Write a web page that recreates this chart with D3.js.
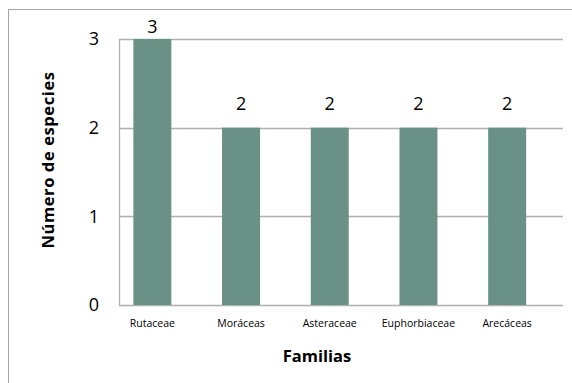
<!DOCTYPE html>
<html>
<head>
<meta charset="utf-8">
<script src="https://cdn.jsdelivr.net/npm/d3@7"></script>
<style>
  html, body { margin: 0; padding: 0; background: #fff; }
  svg { display: block; font-family: "Open Sans", Lato, sans-serif; }
</style>
</head>
<body>
<svg id="chart" width="572" height="383"></svg>
<script>
// ---- data ----
const familias = ['Rutaceae', 'Moráceas', 'Asteraceae', 'Euphorbiaceae', 'Arecáceas'];
const especies = [3, 2, 2, 2, 2];
const yTicks = [0, 1, 2, 3];

const W = 572, H = 383;
const plot = { left: 119, right: 563, top: 39, bottom: 305 };

const svg = d3.select('#chart');

// outer chart border
svg.append('rect')
  .attr('x', 8.5).attr('y', 9.5)
  .attr('width', W).attr('height', H)
  .attr('fill', 'none')
  .attr('stroke', '#a6a6a6')
  .attr('stroke-width', 1);

const x = d3.scaleBand()
  .domain(familias)
  .range([108, 551.5])
  .paddingInner(0.572)
  .paddingOuter(0.286);

const y = d3.scaleLinear()
  .domain([0, 3])
  .range([plot.bottom, plot.top]);

// gridlines
svg.append('g')
  .selectAll('line')
  .data(yTicks)
  .join('line')
  .attr('x1', plot.left).attr('x2', plot.right)
  .attr('y1', d => Math.round(y(d)) + 0.5)
  .attr('y2', d => Math.round(y(d)) + 0.5)
  .attr('stroke', '#b0b0b0')
  .attr('stroke-width', 1.3);

// left axis line
svg.append('line')
  .attr('x1', plot.left + 0.5).attr('x2', plot.left + 0.5)
  .attr('y1', plot.top).attr('y2', plot.bottom + 1)
  .attr('stroke', '#b0b0b0')
  .attr('stroke-width', 1.3);

// y tick labels
svg.append('g')
  .selectAll('text')
  .data(yTicks)
  .join('text')
  .attr('x', 99)
  .attr('y', d => y(d))
  .attr('dy', '0.36em')
  .attr('text-anchor', 'end')
  .attr('font-size', 18)
  .attr('fill', '#000')
  .text(d => d);

// bars
svg.append('g')
  .selectAll('rect')
  .data(especies)
  .join('rect')
  .attr('x', (d, i) => x(familias[i]))
  .attr('width', x.bandwidth())
  .attr('y', d => y(d))
  .attr('height', d => y(0) - y(d))
  .attr('fill', '#6a9186');

// value labels (kept inside the chart area like Excel does)
svg.append('g')
  .selectAll('text')
  .data(especies)
  .join('text')
  .attr('x', (d, i) => x(familias[i]) + x.bandwidth() / 2)
  .attr('y', d => Math.max(y(d) - 17.5, 33))
  .attr('text-anchor', 'middle')
  .attr('font-size', 18)
  .attr('fill', '#000')
  .text(d => d);

// category labels
svg.append('g')
  .selectAll('text')
  .data(familias)
  .join('text')
  .attr('x', d => x(d) + x.bandwidth() / 2)
  .attr('y', 327)
  .attr('text-anchor', 'middle')
  .attr('font-size', 10.5)
  .attr('fill', '#000')
  .text(d => d);

// axis titles
svg.append('text')
  .attr('x', 317)
  .attr('y', 362)
  .attr('text-anchor', 'middle')
  .attr('font-size', 16.5)
  .attr('font-weight', 'bold')
  .text('Familias');

svg.append('text')
  .attr('transform', 'translate(54,160) rotate(-90)')
  .attr('text-anchor', 'middle')
  .attr('font-size', 16.5)
  .attr('letter-spacing', 0.6)
  .attr('font-weight', 'bold')
  .text('Número de especies');
</script>
</body>
</html>
